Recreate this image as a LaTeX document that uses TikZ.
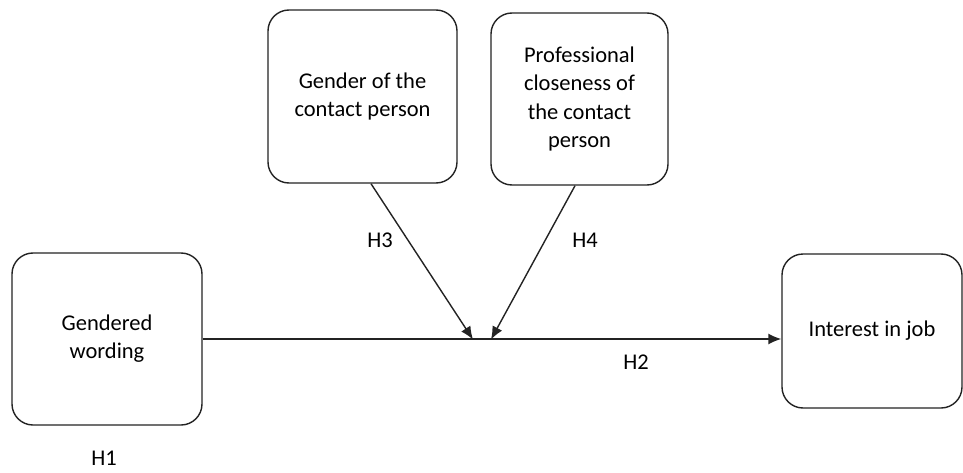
\documentclass[tikz,border=0pt]{standalone}
\usepackage{fontspec}
\setmainfont{Carlito}
\usepackage{tikz}
\usetikzlibrary{shapes.geometric, arrows.meta, positioning, calc}
\usepackage{xcolor}
\definecolor{modelgray}{RGB}{35, 35, 35}
\tikzstyle{varbox} = [draw=modelgray, rectangle, rounded corners=0.42cm, line width=0.8pt, align=center, font=\fontsize{12.8}{16}\selectfont, text=black]
\tikzstyle{arrow} = [line width=0.8pt,-{Latex[length=2.6mm,width=2.2mm]},modelgray]
\tikzstyle{hlabel} = [font=\fontsize{12.8}{16}\selectfont, text=black]

\begin{document}
\begin{tikzpicture}
\useasboundingbox (0,0) rectangle (19.26,-9.44);

% Variable boxes
\node[varbox, minimum width=3.8cm, minimum height=3.44cm] (wording) at (2.14,-6.78) {Gendered\\wording};
\node[varbox, minimum width=3.78cm, minimum height=3.46cm] (gender) at (7.25,-1.93) {Gender of the\\contact person};
\node[varbox, minimum width=3.54cm, minimum height=3.44cm] (closeness) at (11.59,-1.98) {Professional\\closeness of\\the contact\\person};
\node[varbox, minimum width=3.6cm, minimum height=3.08cm] (interest) at (17.44,-6.62) {Interest in job};

% Meeting points on the main path
\coordinate (m3) at (9.46,-6.79);
\coordinate (m4) at (9.82,-6.79);

% Arrows
\draw[arrow] (wording.east) -- (wording.east -| interest.west);
\draw[arrow] ([xshift=0.17cm]gender.south) -- (m3);
\draw[arrow] ([xshift=-0.09cm]closeness.south) -- (m4);

% Hypotheses
\node[hlabel] (h3) at (7.6,-4.8) {H3};
\node[hlabel] (h4) at (11.7,-4.8) {H4};
\node[hlabel] (h2) at (12.72,-7.24) {H2};
\node[hlabel] (h1) at (2.08,-9.17) {H1};
\end{tikzpicture}
\end{document}
